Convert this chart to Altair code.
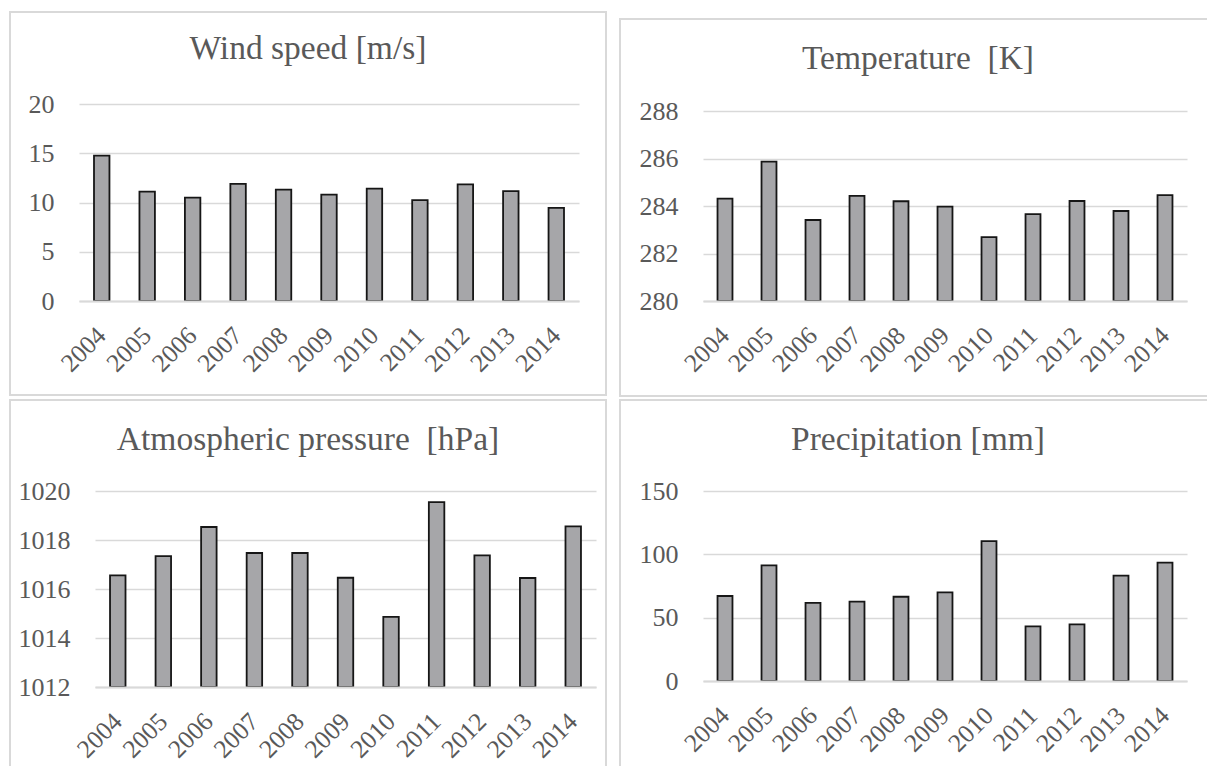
import altair as alt
import pandas as pd

# ---- data ----
years = ["2004", "2005", "2006", "2007", "2008", "2009", "2010", "2011", "2012", "2013", "2014"]
wind = [14.75, 11.1, 10.5, 11.9, 11.3, 10.8, 11.4, 10.25, 11.85, 11.15, 9.45]
temperature = [284.31, 285.87, 283.41, 284.43, 284.2, 283.97, 282.69, 283.66, 284.21, 283.79, 284.46]
pressure = [1016.56, 1017.34, 1018.53, 1017.47, 1017.47, 1016.46, 1014.86, 1019.55, 1017.37, 1016.45, 1018.56]
precipitation = [67.1, 91.3, 61.6, 62.6, 66.5, 70.0, 110.5, 43.1, 44.7, 83.2, 93.4]

wind_ticks = [0, 5, 10, 15, 20]
temp_ticks = [280, 282, 284, 286, 288]
pressure_ticks = [1012, 1014, 1016, 1018, 1020]
precip_ticks = [0, 50, 100, 150]

titles = ["Wind speed [m/s]", "Temperature\u00a0 [K]",
          "Atmospheric pressure\u00a0 [hPa]", "Precipitation [mm]"]

FONT = "Liberation Serif"
TEXT = "#595959"
GRID = "#d9d9d9"
BORDER = "#d9d9d9"


def one():
    return alt.Chart(alt.Data(values=[{}]))


def edge(x, x2, y, y2):
    return one().mark_rule(color=BORDER, strokeWidth=2).encode(
        x=alt.value(x), x2=alt.value(x2), y=alt.value(y), y2=alt.value(y2))


def title_mark(text, x, y):
    return one().mark_text(
        font=FONT, fontSize=33.5, color=TEXT, align="center", baseline="alphabetic"
    ).encode(text=alt.value(text), x=alt.value(x), y=alt.value(y))


def panel(title, values, ticks, width, height, ypad, tpos, edges, xrange=None, yrange=None):
    df = pd.DataFrame({"year": years, "value": values})
    xs = dict(paddingInner=0.66, paddingOuter=0.33)
    if xrange is not None:
        xs["range"] = xrange
    ys = dict(domain=[ticks[0], ticks[-1]], zero=False, nice=False)
    if yrange is not None:
        ys["range"] = yrange
    bars = alt.Chart(df).mark_bar(
        fill="#a6a6a9", stroke="#161616", strokeWidth=1.8
    ).encode(
        x=alt.X("year:N", sort=years, title=None, scale=alt.Scale(**xs),
                axis=alt.Axis(labelAngle=-45, labelAlign="right", labelBaseline="middle",
                              labelFont=FONT, labelFontSize=25.5, labelColor=TEXT,
                              labelPadding=30, ticks=False, tickSize=0,
                              domainColor=GRID, domainWidth=2, zindex=1)),
        y=alt.Y("value:Q", title=None, scale=alt.Scale(**ys),
                axis=alt.Axis(values=ticks, format="d", domain=False, ticks=False, tickSize=0,
                              labelFont=FONT, labelFontSize=26, labelColor=TEXT,
                              labelPadding=ypad, gridColor=GRID, gridWidth=1.5)),
        y2=alt.datum(ticks[0]),
    )
    layers = [edge(*e) for e in edges] + [title_mark(title, *tpos), bars]
    return alt.layer(*layers).properties(width=width, height=height)


tl = panel(titles[0], wind, wind_ticks, 500, 197, 25, (229, -45),
           edges=[(-69, -69, -93, 292), (527, 527, -93, 292),
                  (-70, 528, -92, -92), (-70, 528, 291, 291)])
tr = panel(titles[1], temperature, temp_ticks, 484, 197, 25, (215, -35),
           edges=[(-83, -83, -86, 293), (-84, 504, -85, -85), (-84, 504, 292, 292)],
           yrange=[197, 7])
bl = panel(titles[2], pressure, pressure_ticks, 517, 196, 9, (229, -41),
           edges=[(-69, -69, -92, 275), (527, 527, -92, 275), (-70, 528, -91, -91)],
           xrange=[16, 517])
br = panel(titles[3], precipitation, precip_ticks, 484, 190, 25, (215, -41),
           edges=[(-83, -83, -92, 275), (-84, 504, -91, -91)])

chart = alt.concat(
    tl, tr, bl, br, columns=2, spacing={"row": 190, "column": 107}, bounds="flush"
).properties(
    padding={"left": 8, "top": 10, "right": 0, "bottom": 0},
    background="white",
).configure_view(stroke=None).configure_axis(
    labelFont=FONT, labelColor=TEXT
)

chart.save("out.html", embed_options={"renderer": "svg", "actions": False})
